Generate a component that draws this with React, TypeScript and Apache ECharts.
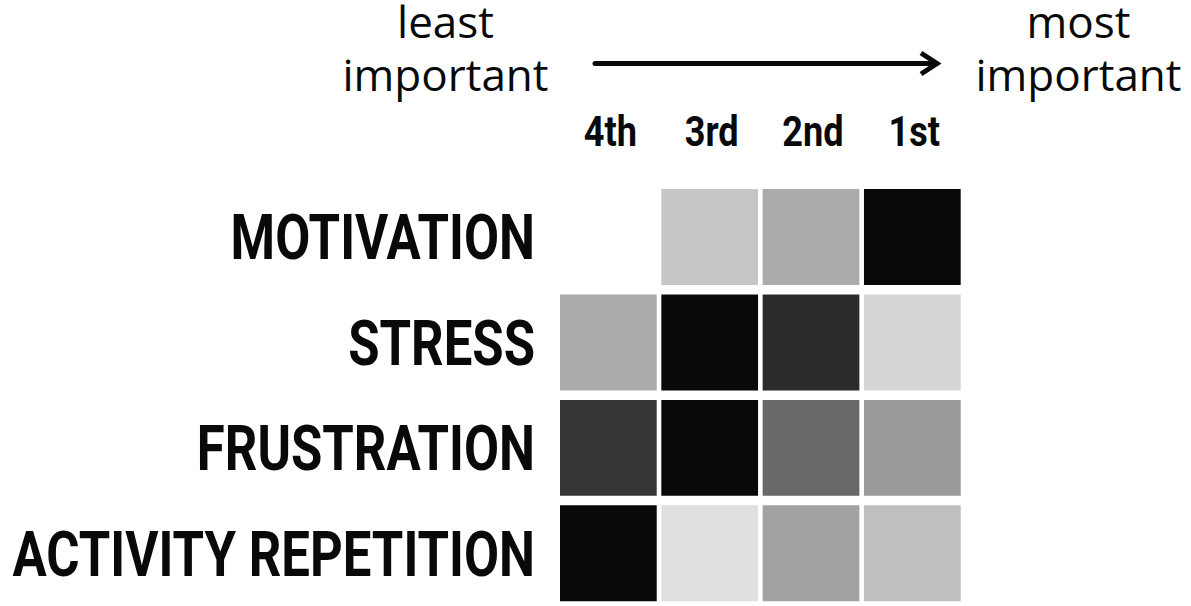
import React, { useEffect, useRef } from 'react';
import * as echarts from 'echarts';

const ranks = ['4th', '3rd', '2nd', '1st'];
const factors = ['MOTIVATION', 'STRESS', 'FRUSTRATION', 'ACTIVITY REPETITION'];
// relative intensity of each rank, in the order of `ranks`
const motivation = [0, 0.23, 0.34, 1];
const stress = [0.34, 1, 0.86, 0.17];
const frustration = [0.82, 1, 0.61, 0.41];
const activityRepetition = [1, 0.13, 0.38, 0.26];
const leftEndLabel = ['least', 'important'];
const rightEndLabel = ['most', 'important'];

const INK = '#08090b';
const GAP_X = 4.6;
const GAP_Y = 9.5;

export default function App() {
  const ref = useRef<HTMLDivElement>(null);

  useEffect(() => {
    if (!ref.current) return;
    const chart = echarts.init(ref.current, null, { renderer: 'svg' });
    const rows = [motivation, stress, frustration, activityRepetition];
    const data = rows.flatMap((r, yi) => r.map((v, xi) => [xi, yi, v]));

    chart.setOption({
      animation: false,
      backgroundColor: '#ffffff',
      grid: { left: 557.7, top: 184.25, width: 405.3, height: 424 },
      xAxis: {
        type: 'category',
        data: ranks,
        position: 'top',
        axisLine: { show: false },
        axisTick: { show: false },
        axisLabel: { show: false },
        splitLine: { show: false },
      },
      yAxis: {
        type: 'category',
        data: factors,
        inverse: true,
        axisLine: { show: false },
        axisTick: { show: false },
        axisLabel: { show: false },
        splitLine: { show: false },
      },
      visualMap: {
        show: false,
        type: 'continuous',
        min: 0,
        max: 1,
        dimension: 2,
        seriesIndex: 0,
        inRange: { color: ['#ffffff', INK] },
      },
      series: [
        {
          type: 'custom',
          data,
          encode: { x: 0, y: 1 },
          renderItem: (params: any, api: any) => {
            const c = api.coord([api.value(0), api.value(1)]);
            const s = api.size([1, 1]);
            const w = s[0] - GAP_X;
            const h = s[1] - GAP_Y;
            return {
              type: 'rect',
              shape: { x: c[0] - w / 2, y: c[1] - h / 2, width: w, height: h },
              style: { fill: api.visual('color') },
            };
          },
        },
      ],
    });

    const graphics: any[] = [];
    factors.forEach((f, yi) => {
      const p = chart.convertToPixel({ gridIndex: 0 }, [0, yi]) as number[];
      const cellLeft = p[0] - (405.3 / 4) / 2 + GAP_X / 2;
      graphics.push({
        type: 'text',
        x: cellLeft - 25,
        y: p[1] + 1,
        scaleX: 0.808,
        style: {
          text: f,
          fontFamily: 'Roboto',
          fontWeight: 'bold',
          fontSize: 63,
          fill: INK,
          align: 'right',
          verticalAlign: 'middle',
        },
      });
    });
    ranks.forEach((r, xi) => {
      const p = chart.convertToPixel({ gridIndex: 0 }, [xi, 0]) as number[];
      graphics.push({
        type: 'text',
        x: p[0] + 2,
        y: 132,
        scaleX: 0.86,
        style: {
          text: r,
          fontFamily: 'Roboto',
          fontWeight: 'bold',
          fontSize: 42,
          fill: INK,
          align: 'center',
          verticalAlign: 'middle',
        },
      });
    });
    const endText = (text: string, x: number, y: number) => ({
      type: 'text',
      x,
      y,
      style: {
        text,
        fontFamily: 'Open Sans',
        fontSize: 44,
        lineHeight: 42,
        fill: INK,
        align: 'center',
        verticalAlign: 'middle',
      },
    });
    graphics.push(endText(leftEndLabel[0], 445.5, 21));
    graphics.push(endText(leftEndLabel[1], 445.5, 74));
    graphics.push(endText(rightEndLabel[0], 1078.5, 21));
    graphics.push(endText(rightEndLabel[1], 1078.5, 74));
    graphics.push({
      type: 'line',
      shape: { x1: 595, y1: 63.5, x2: 935, y2: 63.5 },
      style: { stroke: INK, lineWidth: 5, lineCap: 'round' },
    });
    graphics.push({
      type: 'polyline',
      shape: { points: [[921, 53], [937, 63.5], [921, 74]] },
      style: { stroke: INK, lineWidth: 5, fill: null, lineJoin: 'miter' },
    });
    chart.setOption({ graphic: graphics });

    return () => chart.dispose();
  }, []);

  return (
    <div
      ref={ref}
      style={{ width: 1191, height: 606, position: 'absolute', left: 0, top: 0, background: '#fff' }}
    />
  );
}
